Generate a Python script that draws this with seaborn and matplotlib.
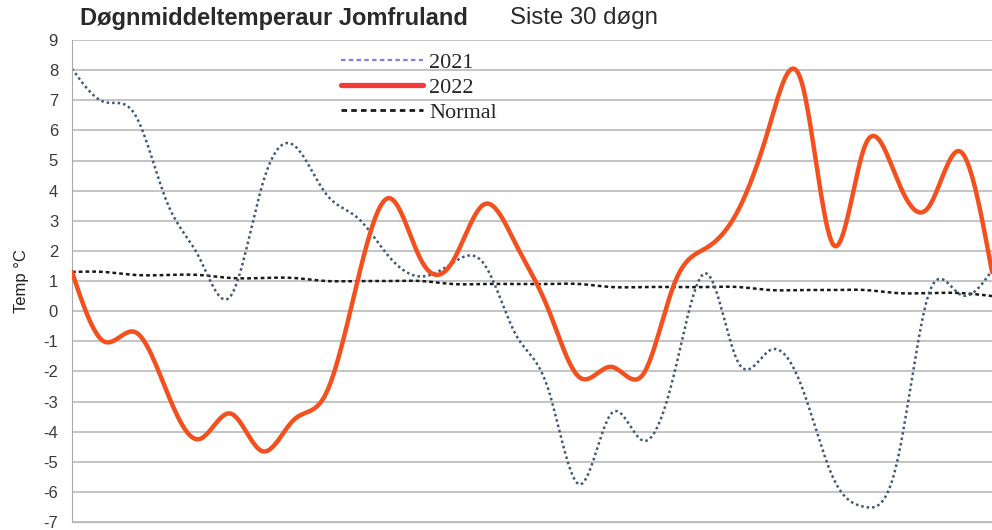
import numpy as np
import pandas as pd
import matplotlib
matplotlib.use('Agg')
import matplotlib.pyplot as plt
import seaborn as sns
from matplotlib.lines import Line2D

# daily mean temperature, last 30 days
days = list(range(30))
temp_2021 = [8.05, 6.95, 6.5, 3.6, 1.8, 0.5, 4.2, 5.5, 3.9, 3.1,
             1.8, 1.15, 1.6, 1.55, -0.8, -2.55, -5.75, -3.4, -4.3, -2.0,
             1.25, -1.7, -1.3, -2.5, -5.55, -6.5, -5.05, 0.55, 0.55, 1.35]
temp_2022 = [1.3, -1.0, -0.7, -2.7, -4.25, -3.4, -4.65, -3.6, -2.75, 1.0,
             3.75, 1.7, 1.65, 3.55, 2.2, 0.1, -2.2, -1.85, -2.1, 0.95,
             2.1, 3.35, 6.2, 7.6, 2.2, 5.5, 4.4, 3.45, 5.3, 1.3]
temp_normal = [1.3, 1.3, 1.2, 1.2, 1.2, 1.1, 1.1, 1.1, 1.0, 1.0,
               1.0, 1.0, 0.9, 0.9, 0.9, 0.9, 0.9, 0.8, 0.8, 0.8,
               0.8, 0.8, 0.7, 0.7, 0.7, 0.7, 0.6, 0.6, 0.6, 0.5]
yticks = list(range(-7, 10))


def smooth(x, y, n=25):
    # natural cubic spline, like the spreadsheet's "cubic spline" line type
    x = np.asarray(x, float)
    y = np.asarray(y, float)
    m = len(x)
    h = np.diff(x)
    A = np.zeros((m, m))
    r = np.zeros(m)
    A[0, 0] = A[-1, -1] = 1
    for i in range(1, m - 1):
        A[i, i - 1] = h[i - 1]
        A[i, i] = 2 * (h[i - 1] + h[i])
        A[i, i + 1] = h[i]
        r[i] = 6 * ((y[i + 1] - y[i]) / h[i] - (y[i] - y[i - 1]) / h[i - 1])
    M = np.linalg.solve(A, r)
    xs, ys = [], []
    for i in range(m - 1):
        t = np.linspace(x[i], x[i + 1], n, endpoint=(i == m - 2))
        a = (x[i + 1] - t) / h[i]
        b = (t - x[i]) / h[i]
        s = a * y[i] + b * y[i + 1] + ((a**3 - a) * M[i] + (b**3 - b) * M[i + 1]) * h[i]**2 / 6
        xs.extend(t)
        ys.extend(s)
    return np.array(xs), np.array(ys)


sns.set_style('white')
plt.rcParams['font.family'] = ['Liberation Sans', 'DejaVu Sans']
plt.rcParams['axes.unicode_minus'] = False

fig = plt.figure(figsize=(9.92, 5.30), dpi=100)
ax = fig.add_axes([72 / 992, 8 / 530, 920 / 992, 482 / 530])

styles = {
    '2021': dict(color='#3f5878', lw=1.8, ls=(0, (1, 1.2))),
    '2022': dict(color='#f4501e', lw=3.2, ls='-'),
    'Normal': dict(color='#1a1a1a', lw=1.8, ls=(0, (1.5, 1.2))),
}

for name, vals in [('Normal', temp_normal), ('2021', temp_2021), ('2022', temp_2022)]:
    sx, sy = smooth(days, vals)
    df = pd.DataFrame({'day': sx, 'temp': sy})
    st = styles[name]
    sns.lineplot(data=df, x='day', y='temp', ax=ax, sort=False, color=st['color'],
                 linewidth=st['lw'], linestyle=st['ls'], zorder=3 if name == '2022' else 2)

ax.set_xlim(0, 29)
ax.set_ylim(-7, 9)
ax.set_yticks(yticks)
ax.set_xticks([])
ax.set_xlabel('')
ax.set_ylabel('Temp °C', fontsize=12, color='#222222', labelpad=10)
ax.tick_params(axis='y', labelsize=12, length=4, width=1, direction='out',
               pad=6, color='#aaaaaa', labelcolor='#3a3a3a')
ax.grid(axis='y', color='#b4b4b4', lw=1.1)
for side in ['top', 'right']:
    ax.spines[side].set_visible(False)
ax.spines['left'].set_color('#aaaaaa')
ax.spines['bottom'].set_color('#b4b4b4')

handles = [
    Line2D([], [], color='#8080e8', lw=1.6, ls=(0, (2, 1.5))),
    Line2D([], [], color='#f23a3a', lw=3.8, ls='-'),
    Line2D([], [], color='#1a1a1a', lw=2.0, ls=(0, (2, 1.5))),
]
leg = ax.legend(handles, ['2021', '2022', 'Normal'], loc='upper left',
                bbox_to_anchor=(258 / 920, 1 - 1 / 482), frameon=False,
                prop={'family': 'Liberation Serif', 'size': 16},
                handlelength=3.7, handletextpad=0.25, labelspacing=0.2, borderpad=0)

fig.text(80 / 992, 1 - 19 / 530, 'Døgnmiddeltemperaur Jomfruland', fontsize=17,
         fontweight='semibold', color='#2a2a2a', va='center', ha='left')
fig.text(510 / 992, 1 - 18 / 530, 'Siste 30 døgn', fontsize=17.3, color='#2a2a2a',
         va='center', ha='left')

fig.savefig('out.png', dpi=100)
